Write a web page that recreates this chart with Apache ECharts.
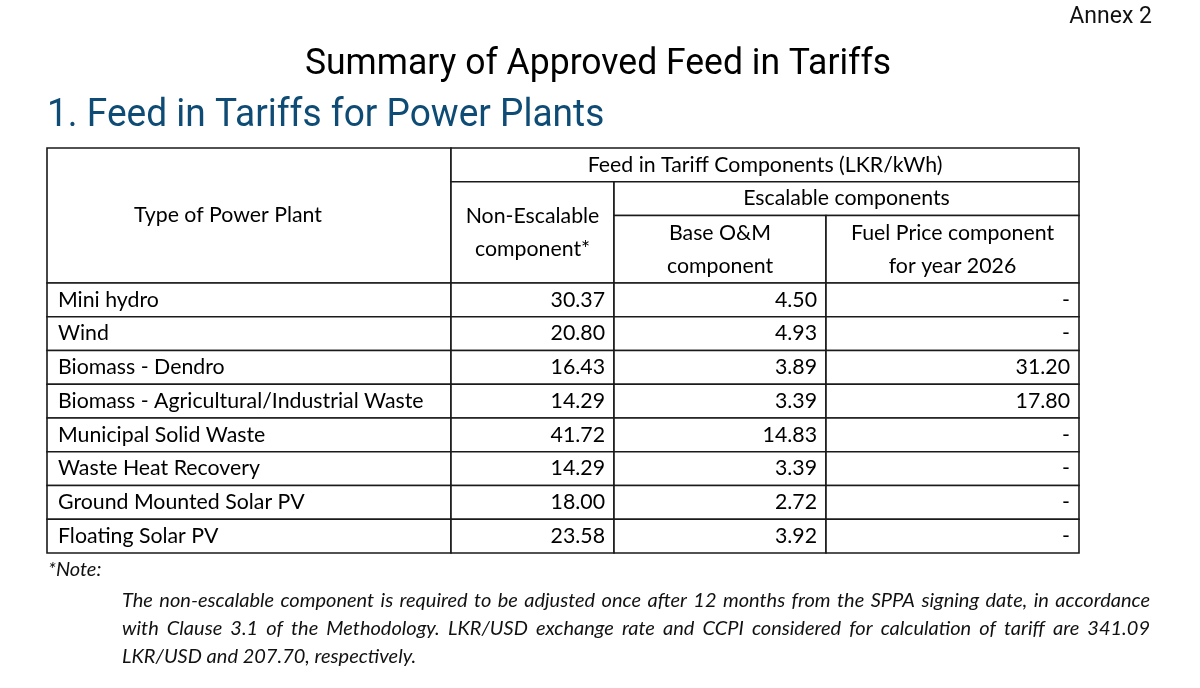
<!DOCTYPE html>
<html lang="en">
<head>
  <meta charset="UTF-8">
  <title>Summary of Approved Feed in Tariffs</title>
  <script src="https://cdn.jsdelivr.net/npm/echarts@6.0.0/dist/echarts.min.js"></script>
  <style>
    html, body { margin: 0; padding: 0; background: #fff; }
  </style>
</head>
<body>
<div id="main" style="width: 1200px;height:688px;"></div>
<script type="text/javascript">

  // table rows
  const plantTypes = [
    'Mini hydro',
    'Wind',
    'Biomass - Dendro',
    'Biomass - Agricultural/Industrial Waste',
    'Municipal Solid Waste',
    'Waste Heat Recovery',
    'Ground Mounted Solar PV',
    'Floating Solar PV'
  ];
  // LKR/kWh
  const nonEscalable = [30.37, 20.80, 16.43, 14.29, 41.72, 14.29, 18.00, 23.58];
  const baseOM = [4.50, 4.93, 3.89, 3.39, 14.83, 3.39, 2.72, 3.92];
  const fuelPrice = [null, null, 31.20, 17.80, null, null, null, null];

  const headerTexts = {
    type: 'Type of Power Plant',
    group: 'Feed in Tariff Components (LKR/kWh)',
    nonEsc: 'Non-Escalable\ncomponent*',
    esc: 'Escalable components',
    om: 'Base O&M\ncomponent',
    fuel: 'Fuel Price component\nfor year 2026'
  };

  const noteLines = [
    'The non-escalable component is required to be adjusted once after 12 months from the SPPA signing date, in accordance',
    'with Clause 3.1 of the Methodology. LKR/USD exchange rate and CCPI considered for calculation of tariff are 341.09',
    'LKR/USD and 207.70, respectively.'
  ];

  // layout: column edges on x axis, header takes 4 row units
  const colEdges = [0, 404, 567, 779, 1032];
  const headRows = 4;

  const cells = [];
  function addCell(c0, c1, r0, r1, text, align, dx) {
    cells.push({value: [colEdges[c0], colEdges[c1], r0, r1], text: text, align: align, dx: dx || 0});
  }
  addCell(0, 1, 0, 4, headerTexts.type, 'center', -21);
  addCell(1, 4, 0, 1, headerTexts.group, 'center');
  addCell(1, 2, 1, 4, headerTexts.nonEsc, 'center');
  addCell(2, 4, 1, 2, headerTexts.esc, 'center');
  addCell(2, 3, 2, 4, headerTexts.om, 'center');
  addCell(3, 4, 2, 4, headerTexts.fuel, 'center');
  plantTypes.forEach((name, i) => {
    const r = headRows + i;
    addCell(0, 1, r, r + 1, name, 'left');
    addCell(1, 2, r, r + 1, nonEscalable[i].toFixed(2), 'right');
    addCell(2, 3, r, r + 1, baseOM[i].toFixed(2), 'right');
    addCell(3, 4, r, r + 1, fuelPrice[i] == null ? '-' : fuelPrice[i].toFixed(2), 'right');
  });

  const cellFont = '21.3px Lato';
  const noteFont = 'italic 20px Lato';
  const lineColor = '#1a1a1a';

  // justified note lines: place words one by one
  const measureCtx = document.createElement('canvas').getContext('2d');
  function noteGraphics() {
    const out = [];
    const x0 = 122, width = 1028;
    noteLines.forEach((line, li) => {
      const y = 601 + li * 27.7;
      const words = line.split(' ');
      measureCtx.font = noteFont;
      const widths = words.map(w => measureCtx.measureText(w).width);
      const total = widths.reduce((a, b) => a + b, 0);
      const justify = li < noteLines.length - 1;
      const gap = justify ? (width - total) / (words.length - 1) : measureCtx.measureText(' ').width;
      let x = x0;
      words.forEach((w, wi) => {
        out.push({type: 'text', x: x, y: y,
          style: {text: w, font: noteFont, fill: '#111', verticalAlign: 'middle'}});
        x += widths[wi] + gap;
      });
    });
    return out;
  }

  var myChart = echarts.init(document.getElementById('main'));

  myChart.setOption({
    backgroundColor: '#fff',
    animation: false,
    grid: {left: 47, top: 148, width: 1032, height: 405},
    xAxis: {type: 'value', min: 0, max: 1032, show: false},
    yAxis: {type: 'value', min: 0, max: headRows + plantTypes.length, inverse: true, show: false},
    graphic: [
      {type: 'text', x: 1152, y: 17,
        style: {text: 'Annex 2', font: '23px Roboto', fill: '#111', align: 'right', verticalAlign: 'middle'}},
      {type: 'text', x: 598, y: 65, scaleX: 0.96,
        style: {text: 'Summary of Approved Feed in Tariffs', font: '37px Roboto', fill: '#000',
          align: 'center', verticalAlign: 'middle'}},
      {type: 'text', x: 47, y: 116, scaleX: 0.95,
        style: {text: '1. Feed in Tariffs for Power Plants', font: '39px Roboto', fill: '#0f4c75',
          verticalAlign: 'middle'}},
      {type: 'text', x: 48, y: 570,
        style: {text: '*Note:', font: noteFont, fill: '#111', verticalAlign: 'middle'}}
    ].concat(noteGraphics()),
    series: [{
      type: 'custom',
      coordinateSystem: 'cartesian2d',
      data: cells,
      renderItem: function (params, api) {
        const cell = cells[params.dataIndex];
        const p0 = api.coord([api.value(0), api.value(2)]);
        const p1 = api.coord([api.value(1), api.value(3)]);
        const w = p1[0] - p0[0], h = p1[1] - p0[1];
        let tx = p0[0] + w / 2 + cell.dx;
        if (cell.align === 'left') tx = p0[0] + 11;
        if (cell.align === 'right') tx = p1[0] - 9;
        return {
          type: 'group',
          children: [
            {type: 'rect', shape: {x: p0[0], y: p0[1], width: w, height: h},
              style: {fill: '#fff', stroke: lineColor, lineWidth: 1.6}},
            {type: 'text', x: tx, y: p0[1] + h / 2,
              style: {text: cell.text, font: cellFont, fill: '#000',
                align: cell.align, verticalAlign: 'middle', lineHeight: 33}}
          ]
        };
      }
    }]
  });

</script>
</body>
</html>
